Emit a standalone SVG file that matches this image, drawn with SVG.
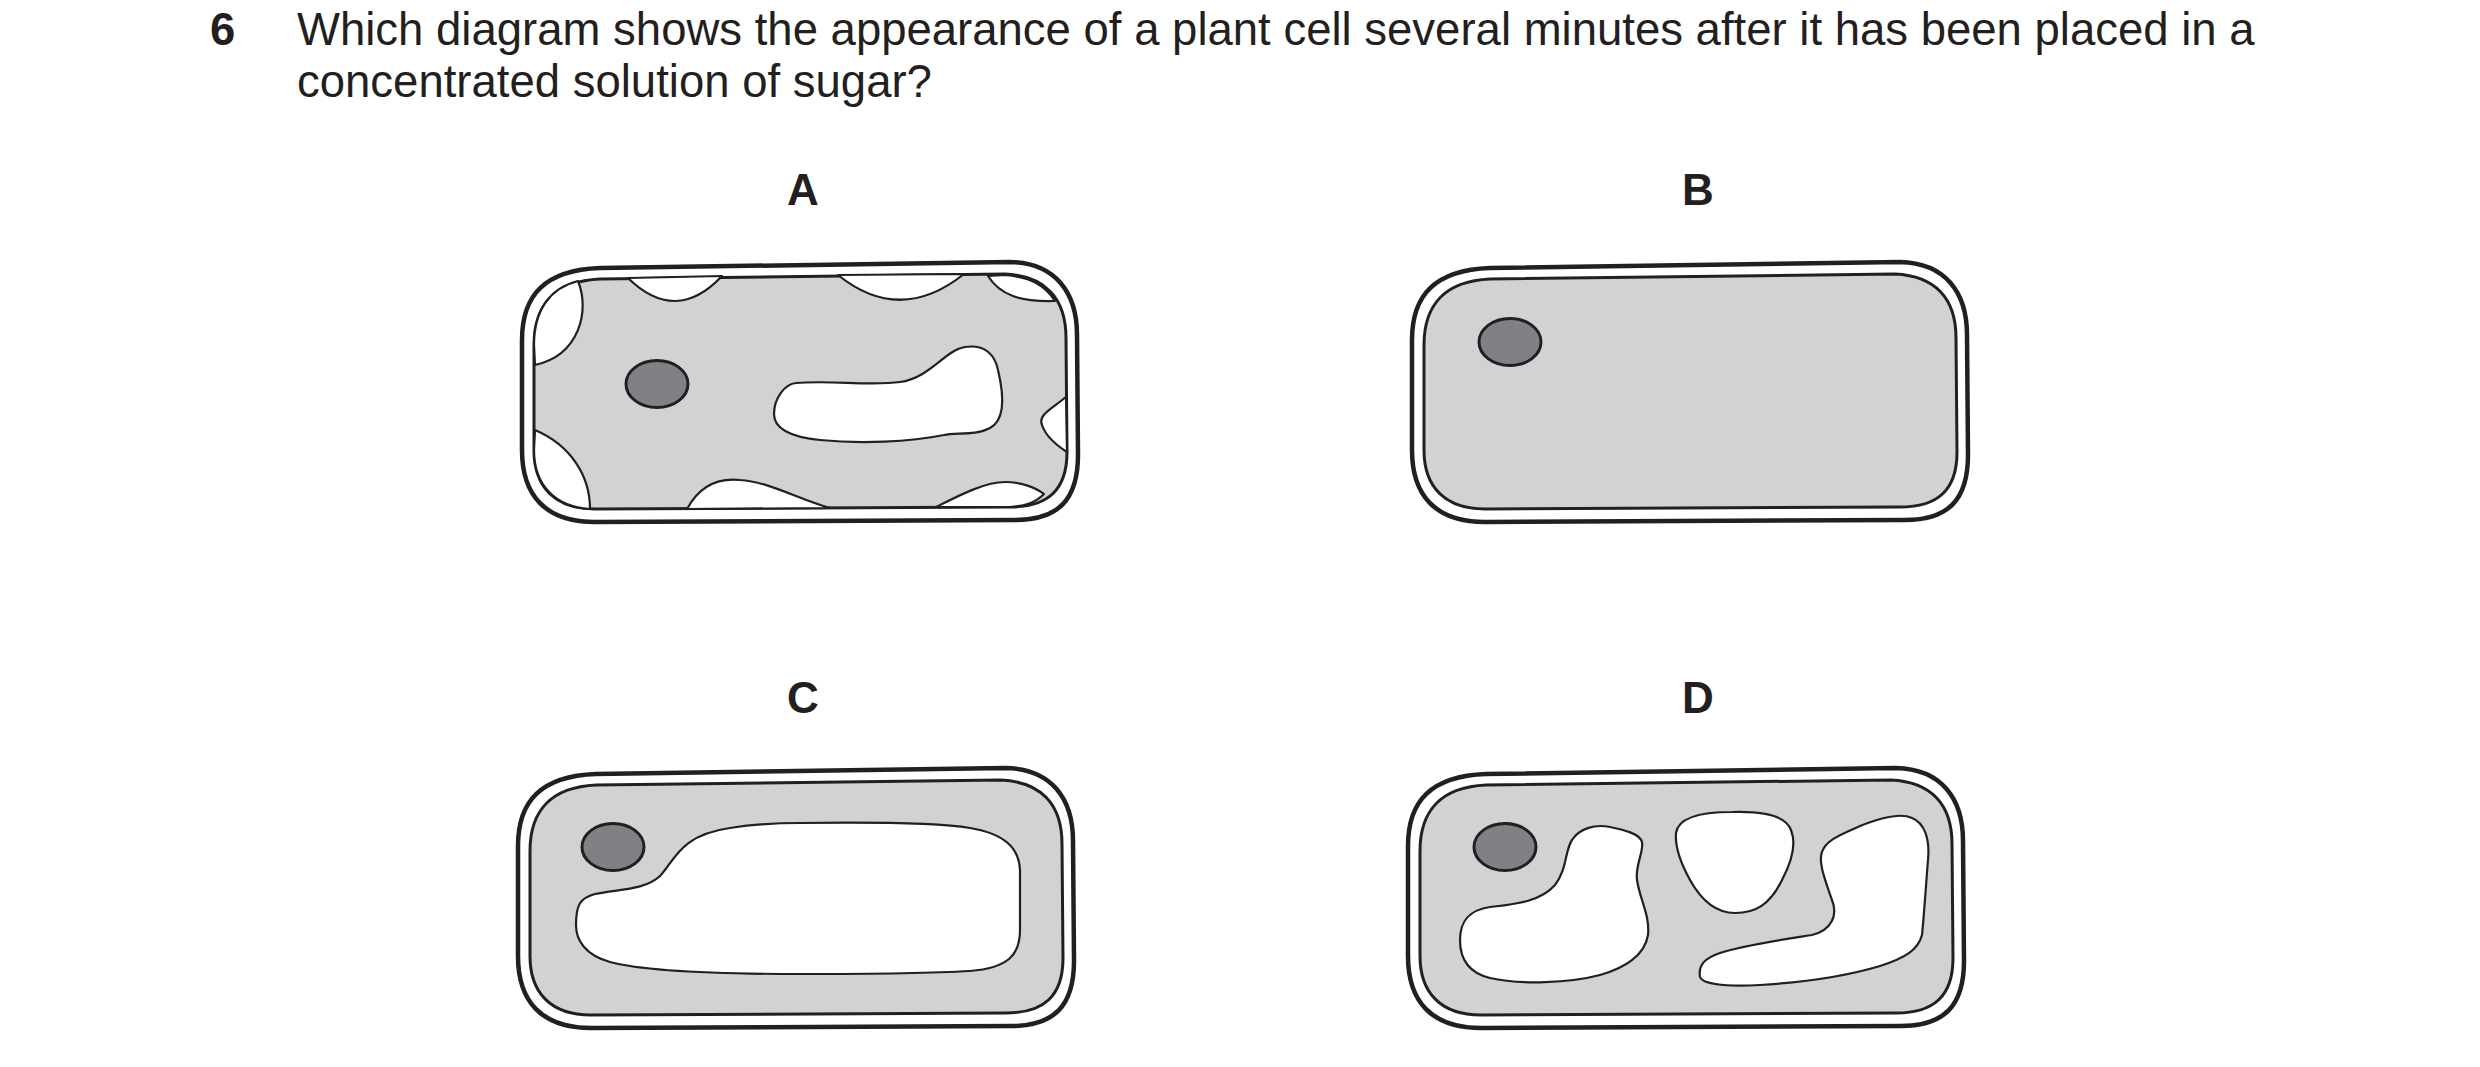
<svg xmlns="http://www.w3.org/2000/svg" xmlns:xlink="http://www.w3.org/1999/xlink" width="2480" height="1067" viewBox="0 0 2480 1067">
<style>
.q{font-family:"Liberation Sans",Arial,sans-serif;font-size:45.5px;fill:#231f20}
.lb{font-family:"Liberation Sans",Arial,sans-serif;font-size:44px;font-weight:bold;fill:#231f20;text-anchor:middle}
.wall{fill:#fff;stroke:#231f20;stroke-width:4.5}
.mem{fill:#d1d2d4;stroke:#231f20;stroke-width:3}
.vac{fill:#fff;stroke:#231f20;stroke-width:2.2;stroke-linejoin:round}
.nuc{fill:#808184;stroke:#231f20;stroke-width:3}
</style>
<defs>
<path id="outer" d="M600 268 L1010 262 C1055 263 1077 292 1077 335 L1078 455 C1078 500 1058 520 1015 520 L595 522 C545 522 522 495 522 450 L522 340 C522 295 545 270 600 268 Z"/>
<path id="inner" d="M600 279 L1005 274 C1045 276 1066 298 1066 338 L1067 452 C1067 490 1048 507 1010 507 L595 509 C555 509 534 487 534 450 L534 345 C534 305 555 281 600 279 Z"/>
</defs>
<text class="q" x="210" y="45" font-weight="bold">6</text>
<text class="q" x="297" y="45">Which diagram shows the appearance of a plant cell several minutes after it has been placed in a</text>
<text class="q" x="297" y="97">concentrated solution of sugar?</text>

<g id="cellA">
<text class="lb" x="803" y="205">A</text>
<use href="#outer" class="wall"/>
<use href="#inner" class="mem"/>
<path class="vac" d="M628 278 Q676 325 722 276 Z"/>
<path class="vac" d="M838 275 Q900 325 964 274 Z"/>
<path class="vac" d="M988 276 C1000 295 1020 302 1055 301 C1045 285 1030 277 1005 275 Z"/>
<path class="vac" d="M578 281 C590 310 580 355 535 365 L534 345 C534 310 550 288 578 281 Z"/>
<path class="vac" d="M535 430 C570 445 590 475 590 509 C555 507 534 485 534 450 Z"/>
<path class="vac" d="M687 509 C700 485 720 478 740 480 C770 482 800 500 830 508 Z"/>
<path class="vac" d="M936 507 C960 495 985 482 1005 482 C1020 482 1035 487 1044 494 C1035 503 1025 506 1010 507 Z"/>
<path class="vac" d="M1066 397 C1050 410 1038 415 1042 425 C1046 437 1056 445 1067 452 Z"/>
<path class="vac" d="M796 383 C830 380 870 386 900 382 C930 378 945 350 965 347 C985 344 995 355 998 370 C1004 395 1005 420 990 428 C975 436 955 432 944 435 C910 442 860 444 820 440 C790 437 774 428 774 414 C774 398 785 384 796 383 Z"/>
<ellipse class="nuc" cx="657" cy="384" rx="31" ry="23.5"/>
</g>

<g id="cellB">
<text class="lb" x="1698" y="205">B</text>
<use href="#outer" class="wall" transform="translate(890,0)"/>
<use href="#inner" class="mem" transform="translate(890,0)"/>
<ellipse class="nuc" cx="1510" cy="342" rx="31" ry="23.5"/>
</g>

<g id="cellC">
<text class="lb" x="803" y="713">C</text>
<use href="#outer" class="wall" transform="translate(-4,506)"/>
<use href="#inner" class="mem" transform="translate(-4,506)"/>
<path class="vac" d="M800 823 C880 822 940 823 970 828 C1005 834 1019 848 1020 870 L1020 930 C1020 955 1008 968 970 971 C920 974 860 974 800 974 C700 974 640 970 610 962 C585 955 576 940 576 925 C576 905 580 898 595 894 C620 889 645 890 660 876 C675 860 680 835 730 828 C755 824 780 823 800 823 Z"/>
<ellipse class="nuc" cx="613" cy="847" rx="31" ry="23.5"/>
</g>

<g id="cellD">
<text class="lb" x="1698" y="713">D</text>
<use href="#outer" class="wall" transform="translate(886,506)"/>
<use href="#inner" class="mem" transform="translate(886,506)"/>
<path class="vac" d="M1460 940 C1460 920 1470 910 1490 907 C1515 904 1540 902 1555 885 C1567 870 1565 850 1572 840 C1580 828 1595 824 1610 827 C1625 830 1640 834 1642 842 C1644 852 1635 865 1637 880 C1640 900 1650 915 1648 935 C1645 955 1625 968 1600 975 C1570 983 1520 985 1490 978 C1465 972 1460 955 1460 940 Z"/>
<path class="vac" d="M1732 812 C1760 811 1785 814 1791 830 C1797 845 1790 865 1782 880 C1770 905 1755 913 1735 913 C1715 913 1700 898 1690 880 C1680 862 1675 845 1676 833 C1678 818 1700 812 1732 812 Z"/>
<path class="vac" d="M1700 977 C1698 965 1705 958 1720 953 C1745 945 1780 940 1812 935 C1832 930 1838 915 1832 900 C1825 880 1818 862 1822 852 C1826 840 1840 835 1860 826 C1880 818 1900 812 1912 818 C1925 823 1930 840 1928 860 C1926 885 1924 915 1922 935 C1918 950 1905 958 1880 966 C1850 975 1810 982 1760 985 C1720 987 1702 983 1700 977 Z"/>
<ellipse class="nuc" cx="1505" cy="847" rx="31" ry="23.5"/>
</g>
</svg>
